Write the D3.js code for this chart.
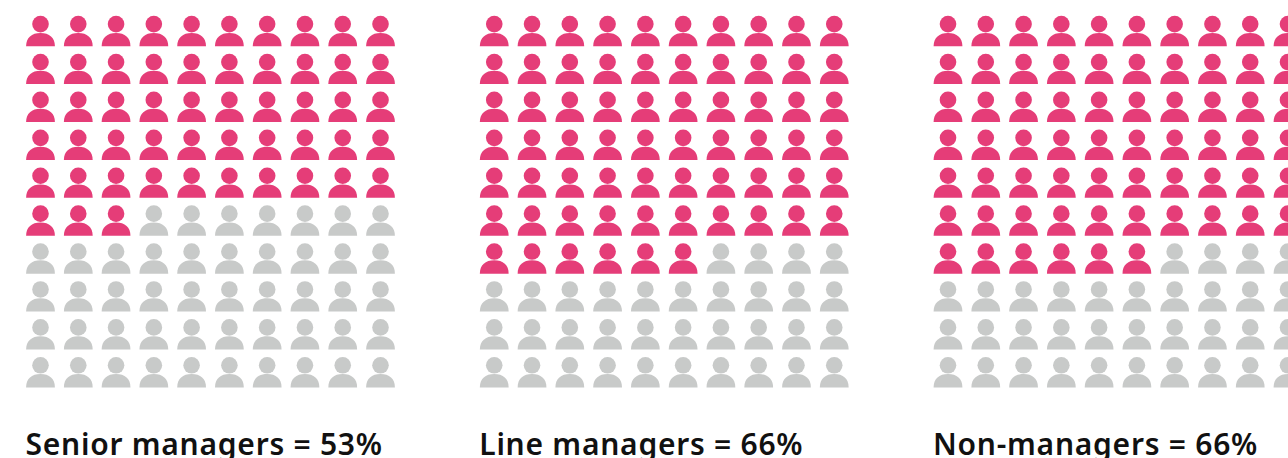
<!DOCTYPE html>
<html>
<head>
<meta charset="utf-8">
<script src="https://cdn.jsdelivr.net/npm/d3@7"></script>
<style>
html, body { margin: 0; padding: 0; background: #fff; overflow: hidden; }
svg { display: block; }
text { font-family: "Noto Sans", sans-serif; font-weight: 600; fill: #111; }
</style>
</head>
<body>
<svg id="chart" width="1288" height="458"></svg>
<script>
const groups = ["Senior managers", "Line managers", "Non-managers"];
const percents = [53, 66, 66];
const columns = d3.range(10);
const rows = d3.range(10);

const width = 1288;
const height = 458;
const pink = "#e53d78";
const grey = "#c8cac9";

const svg = d3.select("#chart");

const panelX = d3.scalePoint().domain(groups).range([26.5, 934]);
const cellX = d3.scaleLinear().domain([0, 9]).range([14, 354]);
const cellY = d3.scaleLinear().domain([0, 9]).range([16, 357.2]);

// one person, origin at top centre of the head
function person(g) {
    g.append("circle").attr("cx", 0).attr("cy", 8.1).attr("r", 8.3);
    g.append("path").attr("d", "M-14.4,30.2 C-14.4,21.6 -8.8,16.9 0,16.9 C8.8,16.9 14.4,21.6 14.4,30.2 Z");
}

const panels = svg.selectAll("g.panel")
    .data(groups)
    .join("g")
    .attr("class", "panel")
    .attr("transform", d => `translate(${panelX(d)},0)`);

panels.each(function (name, p) {
    const cells = d3.range(100).map(i => ({
        row: rows[Math.floor(i / 10)],
        col: columns[i % 10],
        on: i < percents[p]
    }));
    d3.select(this).selectAll("g.person")
        .data(cells)
        .join("g")
        .attr("class", "person")
        .attr("fill", d => d.on ? pink : grey)
        .attr("transform", d => `translate(${cellX(d.col)},${cellY(d.row)})`)
        .call(person);
});

panels.append("text")
    .attr("x", -1)
    .attr("y", 455)
    .attr("font-size", 30)
    .attr("letter-spacing", 0.75)
    .text((d, i) => `${d} = ${percents[i]}%`);
</script>
</body>
</html>
